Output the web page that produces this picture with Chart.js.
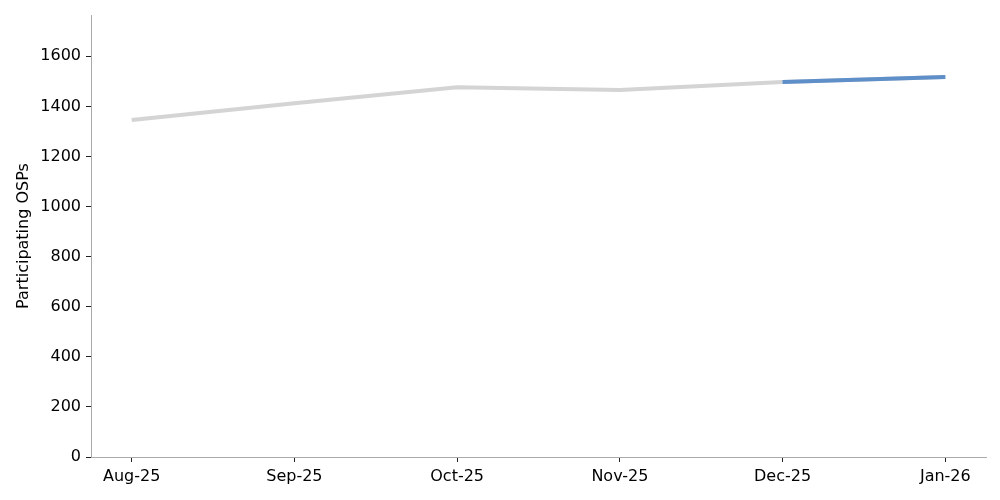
<!DOCTYPE html>
<html lang="en">
<head>
<meta charset="UTF-8">
<title>Participating OSPs</title>
<style>
  body { margin: 0; background: #ffffff; }
  .chart-container { width: 1000px; height: 500px; }
</style>
<script src="https://cdn.jsdelivr.net/npm/chart.js"></script>
</head>
<body>
<div class="chart-container">
  <canvas id="ospChart" width="1000" height="500"></canvas>
</div>
<script>
const months = ['Aug-25', 'Sep-25', 'Oct-25', 'Nov-25', 'Dec-25', 'Jan-26'];
const ospCounts = [1346, 1413, 1476, 1466, 1497, 1517];
const highlightFrom = 4; // Dec-25 onwards drawn in blue
const yTicks = [0, 200, 400, 600, 800, 1000, 1200, 1400, 1600];

const greyPoints = months.map((m, i) => ({ x: i, y: ospCounts[i] }));
const bluePoints = greyPoints.slice(highlightFrom);

const fontFamily = '"DejaVu Sans", sans-serif';

new Chart(document.getElementById('ospChart'), {
  type: 'line',
  data: {
    datasets: [
      {
        data: bluePoints,
        borderColor: '#5f8fc9',
        borderWidth: 4,
        pointRadius: 0,
        tension: 0
      },
      {
        data: greyPoints,
        borderColor: '#d4d4d4',
        borderWidth: 4,
        pointRadius: 0,
        tension: 0
      }
    ]
  },
  options: {
    responsive: false,
    animation: false,
    layout: { padding: { top: 15, right: 14, left: 0, bottom: 0 } },
    plugins: { legend: { display: false }, tooltip: { enabled: false } },
    scales: {
      x: {
        type: 'linear',
        min: -0.25,
        max: months.length - 1 + 0.25,
        afterBuildTicks: axis => { axis.ticks = months.map((m, i) => ({ value: i })); },
        afterFit: axis => { axis.height = 43; },
        ticks: {
          color: '#000',
          font: { family: fontFamily, size: 16 },
          padding: 5,
          maxRotation: 0,
          callback: value => months[value]
        },
        grid: { drawOnChartArea: false, color: '#222', tickLength: 5 },
        border: { color: '#aaaaaa', width: 1 }
      },
      y: {
        min: 0,
        max: 1765,
        afterBuildTicks: axis => { axis.ticks = yTicks.map(v => ({ value: v })); },
        afterFit: axis => { axis.width = 91; },
        ticks: {
          color: '#000',
          font: { family: fontFamily, size: 16 },
          padding: 5,
          callback: value => String(value)
        },
        grid: { drawOnChartArea: false, color: '#222', tickLength: 5 },
        border: { color: '#aaaaaa', width: 1 },
        title: {
          display: true,
          text: 'Participating OSPs',
          color: '#000',
          font: { family: fontFamily, size: 16 },
          padding: { top: 14, bottom: 6 }
        }
      }
    }
  }
});
</script>
</body>
</html>
